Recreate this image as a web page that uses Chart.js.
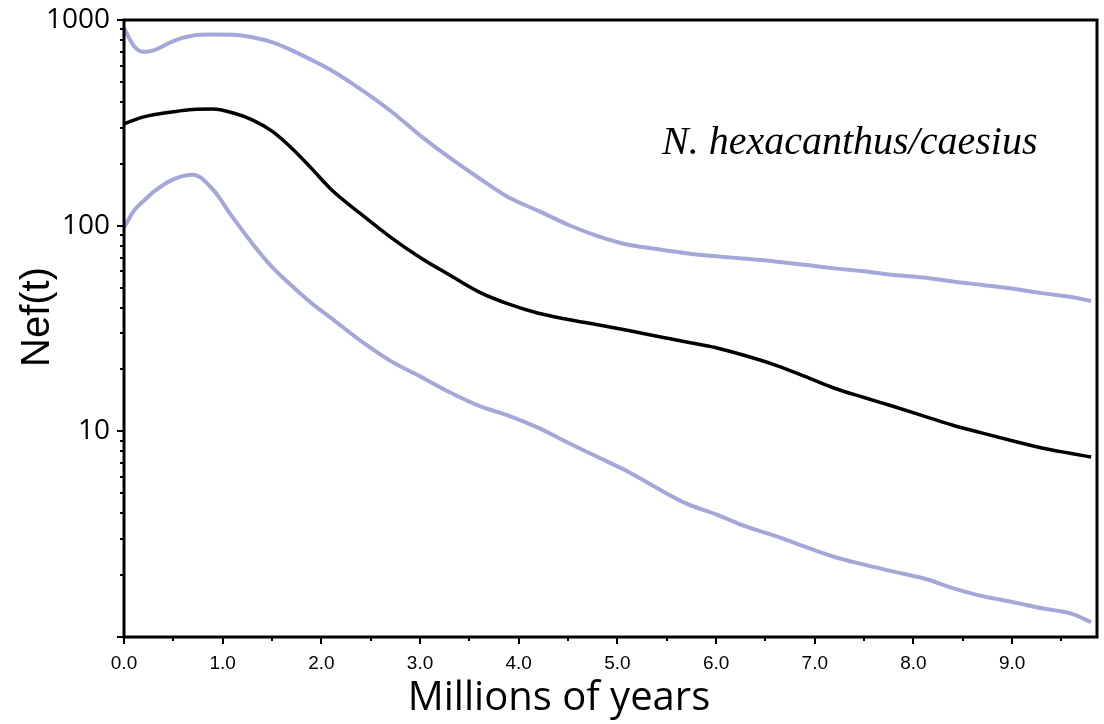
<!DOCTYPE html>
<html>
<head>
<meta charset="utf-8">
<script src="https://cdn.jsdelivr.net/npm/chart.js@4.4.0/dist/chart.umd.min.js"></script>
<style>
  html, body { margin: 0; padding: 0; background: #ffffff; }
  #wrap { width: 1104px; height: 724px; position: relative; }
  canvas { display: block; }
</style>
</head>
<body>
<div id="wrap"><canvas id="c" width="1104" height="724"></canvas></div>
<script>
// Time (millions of years)
const ages = [0, 0.1, 0.2, 0.3, 0.5, 0.7, 0.9, 1.1, 1.3, 1.5, 1.7, 1.9, 2.1, 2.4, 2.7, 3.0, 3.3, 3.6, 3.9, 4.2, 4.5, 4.8, 5.1, 5.4, 5.7, 6.0, 6.3, 6.6, 6.9, 7.2, 7.5, 7.8, 8.1, 8.4, 8.7, 9.0, 9.3, 9.6, 9.8];
// Upper confidence bound of Nef(t)
const upperCI = [914, 748, 700, 712, 790, 840, 850, 848, 825, 780, 712, 640, 570, 460, 362, 275, 214, 170, 137, 118, 101, 89, 81, 77, 73.5, 71, 69, 67, 64.5, 62, 60, 57.5, 56, 53.5, 51.5, 49.5, 47, 45, 43];
// Median Nef(t)
const median = [312, 326, 338, 346, 358, 367, 369, 354, 327, 288, 238, 190, 150, 114, 88, 70, 57.5, 47.5, 41.5, 37.5, 35, 33, 31, 29, 27.2, 25.5, 23.3, 21, 18.5, 16.2, 14.6, 13.2, 11.9, 10.7, 9.8, 9.0, 8.3, 7.8, 7.5];
// Lower confidence bound of Nef(t)
const lowerCI = [98, 118, 132, 146, 168, 177, 150, 110, 82, 63, 51, 42, 35.5, 27.5, 22, 18.5, 15.5, 13.3, 11.9, 10.4, 8.8, 7.5, 6.4, 5.3, 4.45, 3.95, 3.45, 3.1, 2.75, 2.45, 2.25, 2.08, 1.93, 1.73, 1.58, 1.48, 1.38, 1.3, 1.18];

const xTickValues = [0, 1, 2, 3, 4, 5, 6, 7, 8, 9];
const xMinorValues = [0.5, 1.5, 2.5, 3.5, 4.5, 5.5, 6.5, 7.5, 8.5, 9.5];
const yMajorValues = [1, 10, 100, 1000];
const yLabelValues = [10, 100, 1000];
const xTitle = 'Millions of years';
const yTitle = 'Nef(t)';
const speciesLabel = 'N. hexacanthus/caesius';

const pts = arr => ages.map((a, i) => ({ x: a, y: arr[i] }));

const blue = '#a4a7d8';

const decor = {
  id: 'decor',
  afterDatasetsDraw(chart) {
    const { ctx, chartArea: ca, scales } = chart;
    const xs = scales.x, ys = scales.y;
    ctx.save();
    // frame
    ctx.strokeStyle = '#000';
    ctx.lineWidth = 3;
    ctx.strokeRect(ca.left, ca.top, ca.right - ca.left, ca.bottom - ca.top);
    ctx.lineWidth = 2;
    // x ticks
    ctx.beginPath();
    xTickValues.forEach(v => {
      const px = Math.round(xs.getPixelForValue(v));
      ctx.moveTo(px, ca.bottom); ctx.lineTo(px, ca.bottom + 7);
    });
    xMinorValues.forEach(v => {
      const px = Math.round(xs.getPixelForValue(v));
      ctx.moveTo(px, ca.bottom); ctx.lineTo(px, ca.bottom + 4);
    });
    // y ticks
    yMajorValues.forEach(v => {
      const py = Math.round(ys.getPixelForValue(v));
      ctx.moveTo(ca.left, py); ctx.lineTo(ca.left - 7, py);
    });
    for (let d = 1; d < 1000; d *= 10) {
      for (let m = 2; m <= 9; m++) {
        const py = Math.round(ys.getPixelForValue(m * d));
        ctx.moveTo(ca.left, py); ctx.lineTo(ca.left - 4, py);
      }
    }
    ctx.stroke();
    // titles
    ctx.fillStyle = '#000';
    ctx.textAlign = 'center';
    ctx.textBaseline = 'alphabetic';
    ctx.font = '40px "Open Sans", sans-serif';
    ctx.fillText(xTitle, 559, 710);
    ctx.save();
    ctx.translate(49, 317);
    ctx.rotate(-Math.PI / 2);
    ctx.font = '40px "Liberation Sans", Arial, sans-serif';
    ctx.fillText(yTitle, 0, 0);
    ctx.restore();
    // species label
    ctx.font = 'italic 40px "Liberation Serif", "Times New Roman", serif';
    ctx.textAlign = 'left';
    ctx.fillText(speciesLabel, 662, 154);
    ctx.restore();
  }
};

new Chart(document.getElementById('c'), {
  type: 'line',
  data: {
    datasets: [
      { label: 'upper', data: pts(upperCI), borderColor: blue, borderWidth: 4, pointRadius: 0, cubicInterpolationMode: 'monotone', fill: false },
      { label: 'median', data: pts(median), borderColor: '#000000', borderWidth: 3.5, pointRadius: 0, cubicInterpolationMode: 'monotone', fill: false },
      { label: 'lower', data: pts(lowerCI), borderColor: blue, borderWidth: 4, pointRadius: 0, cubicInterpolationMode: 'monotone', fill: false }
    ]
  },
  options: {
    responsive: false,
    animation: false,
    devicePixelRatio: 1,
    layout: { padding: { left: 0, right: 7, top: 20, bottom: 0 } },
    plugins: { legend: { display: false }, tooltip: { enabled: false } },
    scales: {
      x: {
        type: 'linear',
        min: 0, max: 9.86,
        grid: { display: false },
        border: { display: false },
        afterFit: s => { s.height = 87; s.paddingLeft = 0; s.paddingRight = 0; },
        afterBuildTicks: s => { s.ticks = xTickValues.map(v => ({ value: v })); },
        ticks: {
          autoSkip: false,
          maxRotation: 0,
          padding: 7,
          color: '#000',
          font: { family: '"Liberation Sans", Arial, sans-serif', size: 19 },
          callback: v => Number(v).toFixed(1)
        }
      },
      y: {
        type: 'logarithmic',
        min: 1, max: 1000,
        grid: { display: false },
        border: { display: false },
        afterFit: s => { s.width = 124; s.paddingTop = 0; s.paddingBottom = 0; },
        afterBuildTicks: s => { s.ticks = yLabelValues.map(v => ({ value: v })); },
        ticks: {
          autoSkip: false,
          padding: 6,
          color: '#000',
          font: { family: '"Open Sans", sans-serif', size: 28 },
          callback: v => String(v)
        }
      }
    }
  },
  plugins: [decor]
});
</script>
</body>
</html>
